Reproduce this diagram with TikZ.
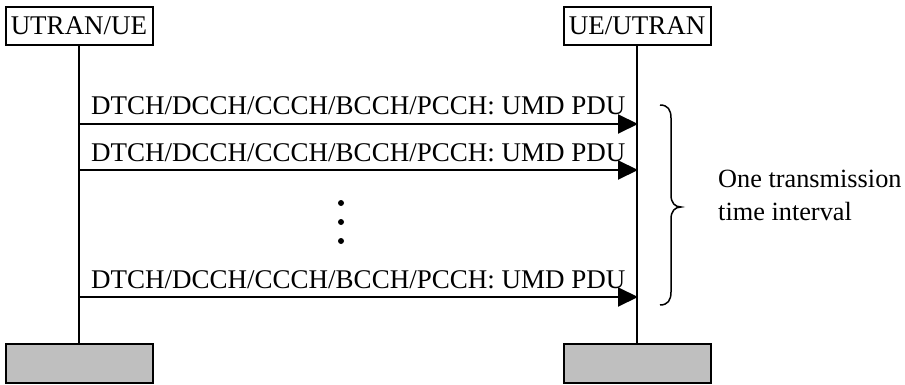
\documentclass[tikz,border=0pt]{standalone}
\usepackage{fontspec}
\setmainfont{Liberation Serif}
\usetikzlibrary{arrows.meta}
\begin{document}
\begin{tikzpicture}[x=1pt,y=-1pt,
  txt/.style={font=\fontsize{27}{33}\selectfont, inner sep=0pt},
  entity/.style={draw, line width=2pt, minimum width=147pt, minimum height=38pt, inner sep=0pt, font=\fontsize{27}{33}\selectfont},
  endbox/.style={draw, line width=2pt, fill=gray!50, minimum width=147pt, minimum height=39pt, inner sep=0pt},
  lifeline/.style={line width=2pt},
  msg/.style={line width=2pt, -{Triangle[length=20pt,width=19pt]}, shorten >=-1pt},
  dotmark/.style={circle, fill=black, inner sep=0pt, minimum size=6pt}
]
\useasboundingbox (0,0) rectangle (905,385);

\node[entity] (tl) at (79,26) {UTRAN/UE};
\node[entity] (tr) at (637,26) {UE/UTRAN};
\node[endbox] (bl) at (79,363.5) {};
\node[endbox] (br) at (637,363.5) {};

\draw[lifeline] (tl.south) -- (bl.north);
\draw[lifeline] (tr.south) -- (br.north);

\coordinate (a1s) at (78,124); \coordinate (a1e) at (637,124);
\coordinate (a2s) at (78,170); \coordinate (a2e) at (637,170);
\coordinate (a3s) at (78,297); \coordinate (a3e) at (637,297);

\draw[msg] (a1s) -- (a1e);
\draw[msg] (a2s) -- (a2e);
\draw[msg] (a3s) -- (a3e);

\node[txt, anchor=base west] (m1) at (91,115) {DTCH/DCCH/CCCH/BCCH/PCCH: UMD PDU};
\node[txt, anchor=base west] (m2) at (91,161) {DTCH/DCCH/CCCH/BCCH/PCCH: UMD PDU};
\node[txt, anchor=base west] (m3) at (91,288) {DTCH/DCCH/CCCH/BCCH/PCCH: UMD PDU};

\node[dotmark] (d1) at (341,203) {};
\node[dotmark] (d2) at (341,222) {};
\node[dotmark] (d3) at (341,241) {};

\draw[line width=1.5pt] (660,105) .. controls (668,105) and (671,110) .. (671,118)
  -- (671,195) .. controls (671,203) and (675,207) .. (681,207)
  .. controls (675,207) and (671,211) .. (671,219)
  -- (671,292) .. controls (671,300) and (668,305) .. (660,305);

\node[txt, font=\fontsize{26.3}{33}\selectfont, anchor=base west, align=left] (tti) at (718,220) {One transmission\\time interval};
\end{tikzpicture}
\end{document}
